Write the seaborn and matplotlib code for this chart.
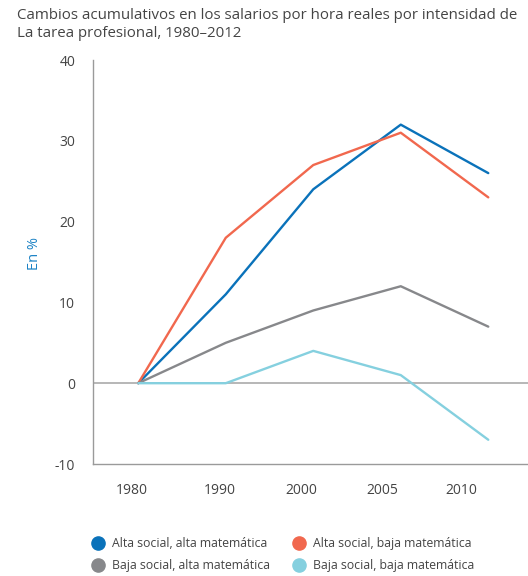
import numpy as np
import pandas as pd
import matplotlib
matplotlib.use("Agg")
import matplotlib.pyplot as plt
from matplotlib.lines import Line2D
import seaborn as sns

# datos
anios = ["1980", "1990", "2000", "2005", "2010"]
alta_social_alta_mat = [0, 11, 24, 32, 26]
alta_social_baja_mat = [0, 18, 27, 31, 23]
baja_social_alta_mat = [0, 5, 9, 12, 7]
baja_social_baja_mat = [0, 0, 4, 1, -7]

series = {
    "Alta social, alta matemática": alta_social_alta_mat,
    "Alta social, baja matemática": alta_social_baja_mat,
    "Baja social, alta matemática": baja_social_alta_mat,
    "Baja social, baja matemática": baja_social_baja_mat,
}
colores = {
    "Alta social, alta matemática": "#0a72ba",
    "Alta social, baja matemática": "#f1684e",
    "Baja social, alta matemática": "#87888b",
    "Baja social, baja matemática": "#85d0df",
}

filas = []
for nombre, valores in series.items():
    for i, v in enumerate(valores):
        filas.append({"pos": i, "serie": nombre, "valor": v})
df = pd.DataFrame(filas)

sns.set_style("white")
plt.rcParams["font.family"] = ["Open Sans", "DejaVu Sans"]
plt.rcParams["axes.unicode_minus"] = False

texto = "#444444"
gris_eje = "#9a9a9a"

fig = plt.figure(figsize=(5.28, 5.76), dpi=100)
ax = fig.add_axes([93.3 / 528, 1 - 464 / 576, 1 - 93.3 / 528, (464 - 60) / 576])

ax.axhline(0, color="#aaaaaa", lw=1.2, zorder=1)
sns.lineplot(data=df, x="pos", y="valor", hue="serie", palette=colores,
             hue_order=list(series.keys()), lw=1.7, legend=False, ax=ax, zorder=3)

ax.set_xlim(-0.514, 4.454)
ax.set_ylim(-10, 40)
ax.set_yticks([-10, 0, 10, 20, 30, 40])
# las etiquetas del original no caen justo bajo los puntos
ax.set_xticks([-0.076, 0.937, 1.86, 2.79, 3.69])
ax.set_xticklabels(anios)
ax.tick_params(axis="both", length=0, labelsize=10, colors=texto)
ax.tick_params(axis="y", pad=13)
ax.tick_params(axis="x", pad=14)
ax.set_xlabel("")
ax.set_ylabel("En %", color="#1b82c5", fontsize=10.5)
ax.yaxis.set_label_coords(-0.117, 0.52)

for lado in ["top", "right"]:
    ax.spines[lado].set_visible(False)
for lado in ["left", "bottom"]:
    ax.spines[lado].set_color(gris_eje)
    ax.spines[lado].set_linewidth(1.0)

fig.text(17 / 528, 1 - 8 / 576,
         "Cambios acumulativos en los salarios por hora reales por intensidad de\nLa tarea profesional, 1980\u20132012",
         ha="left", va="top", fontsize=10.8, color=texto, linespacing=1.25)

orden = ["Alta social, alta matemática", "Baja social, alta matemática",
         "Alta social, baja matemática", "Baja social, baja matemática"]
handles = [Line2D([], [], marker="o", ls="", markersize=9.5, color=colores[n]) for n in orden]
fig.legend(handles, orden, loc="upper left", bbox_to_anchor=(93 / 528, 1 - 537 / 576),
           ncol=2, frameon=False, fontsize=8.8, labelcolor=texto, handlelength=0.8,
           handletextpad=0.75, columnspacing=2.0, borderpad=0, borderaxespad=0,
           labelspacing=0.75)

fig.savefig("out.png", dpi=100)
